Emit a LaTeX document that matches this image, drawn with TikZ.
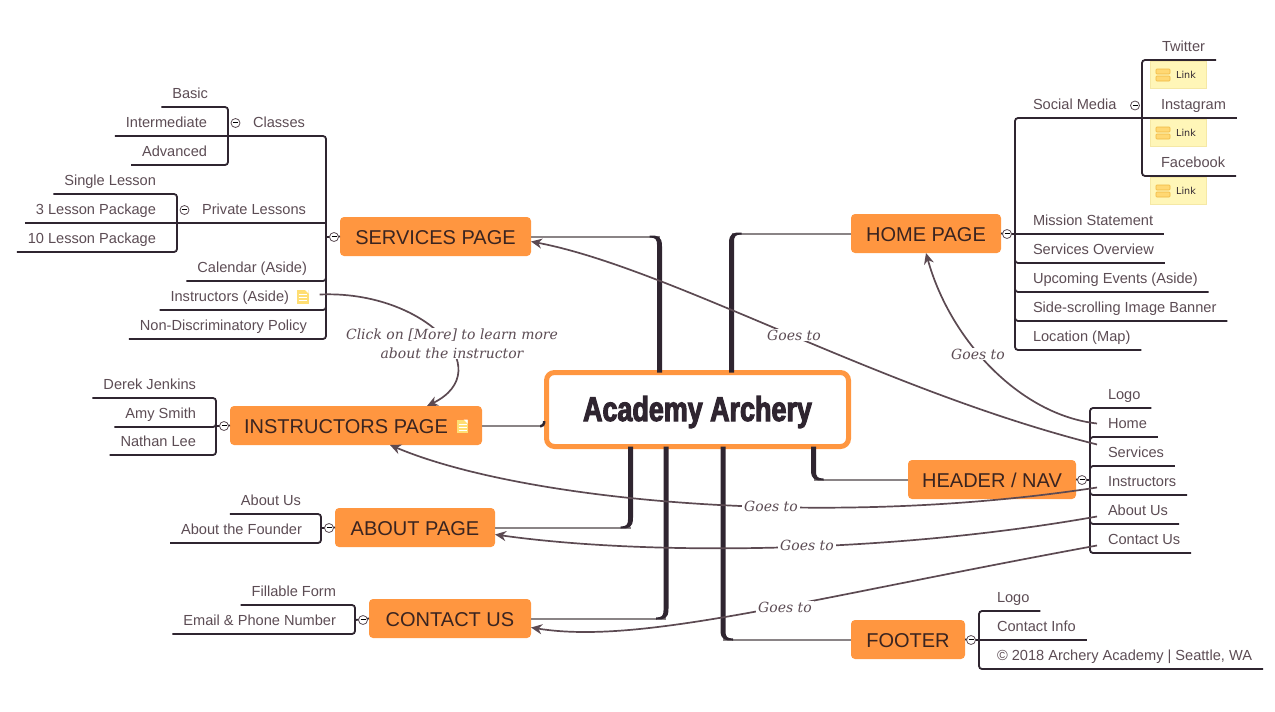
\documentclass[tikz,border=0pt]{standalone}
\usepackage{fontspec}
\setmainfont{Liberation Sans}
\newfontfamily\rootfont[FakeStretch=0.78,BoldFeatures={FakeStretch=0.78,FakeBold=3}]{Liberation Sans}
\newfontfamily\linkfont{DejaVu Sans}
\newfontfamily\relfont{DejaVu Serif}
\usetikzlibrary{arrows.meta,calc}
\definecolor{aaorange}{RGB}{255, 150, 64}
\definecolor{aadark}{RGB}{47, 37, 48}
\definecolor{aagray}{RGB}{138, 132, 134}
\definecolor{aarel}{RGB}{92, 74, 82}
\definecolor{aatext}{RGB}{92, 76, 84}
\definecolor{aapage}{RGB}{58, 36, 32}
\definecolor{aalink}{RGB}{255, 246, 184}
\definecolor{aalinkedge}{RGB}{245, 232, 165}
\definecolor{aabar}{RGB}{255, 216, 115}
\definecolor{aabaredge}{RGB}{240, 184, 64}
\definecolor{aanote}{RGB}{255, 222, 115}

\begin{document}
\begin{tikzpicture}[
		x=1pt, y=-1pt,
		% Node styles
		rootnode/.style={draw=aaorange, fill=white, line width=5pt, rounded corners=8pt, outer sep=0pt,
				minimum width=302pt, minimum height=74pt, text=aadark, text height=23pt, text depth=0pt,
				font=\rootfont\bfseries\fontsize{34.5}{36}\selectfont},
		pagenode/.style={fill=aaorange, text=aapage, rounded corners=4pt, outer sep=0pt, inner sep=0pt,
				minimum height=39pt, text height=15pt, text depth=0pt, font=\fontsize{20}{22}\selectfont},
		leaf/.style={text=aatext, outer sep=0pt, inner xsep=11pt, inner ysep=5pt, text height=11pt, text depth=4pt,
				font=\fontsize{14.6}{17}\selectfont},
		leafl/.style={leaf, anchor=south east},
		leafr/.style={leaf, anchor=south west},
		fold/.style={circle, draw=aatext, fill=white, line width=0.8pt, inner sep=0pt, minimum size=9pt,
				font=\fontsize{4}{4}\selectfont},
		linktag/.style={draw=aalinkedge, fill=aalink, minimum width=56pt, minimum height=27pt, inner sep=0pt,
				text=aadark, font=\linkfont\fontsize{9.6}{11}\selectfont,
				path picture={
						\draw[aabaredge, fill=aabar, line width=0.6pt, rounded corners=0.8pt]
						([shift={(6pt,6pt)}]path picture bounding box.west) rectangle ++(14pt,-5pt)
						([shift={(6pt,-1pt)}]path picture bounding box.west) rectangle ++(14pt,-5pt);
					}},
		noteicon/.style={fill=aanote, minimum width=12pt, minimum height=14pt, inner sep=0pt,
				path picture={
						\fill[white] (path picture bounding box.north east) -- ++(-4pt,0pt) -- ++(4pt,-4pt) -- cycle;
						\draw[white, line width=0.5pt]
						([shift={(2pt,2pt)}]path picture bounding box.west) -- ++(8pt,0pt)
						([shift={(2pt,-1pt)}]path picture bounding box.west) -- ++(8pt,0pt)
						([shift={(2pt,-4pt)}]path picture bounding box.west) -- ++(8pt,0pt);
					}},
		rellabel/.style={fill=white, text=aatext, inner xsep=2pt, inner ysep=1pt, align=center,
				font=\relfont\itshape\fontsize{14}{19}\selectfont},
		% Connector styles
		branch/.style={draw=aadark, line width=1.8pt, rounded corners=3pt},
		mainthin/.style={draw=aagray, line width=2pt},
		mainthick/.style={draw=aadark, line width=2.5pt, rounded corners=3pt},
		relation/.style={draw=aarel, line width=1.7pt, -{Stealth[length=11pt,width=10pt]}}
	]

	\useasboundingbox (0,0) rectangle (1275,712);

	% Central topic
	\node[rootnode] (root) at (697.5,409.5) {Academy Archery};

	% Page topics
	\node[pagenode, minimum width=191pt] (services) at (435.5,236.5) {SERVICES PAGE};
	\node[pagenode, minimum width=252pt] (instructors) at (356,425.5) {INSTRUCTORS PAGE\hspace{20pt}\null};
	\node[pagenode, minimum width=160pt] (about) at (415,527.5) {ABOUT PAGE};
	\node[pagenode, minimum width=162pt] (contact) at (450,618.5) {CONTACT US};
	\node[pagenode, minimum width=150pt] (home) at (926,233.5) {HOME PAGE};
	\node[pagenode, minimum width=168pt] (header) at (992,479.5) {HEADER / NAV};
	\node[pagenode, minimum width=114pt] (footer) at (908,639.5) {FOOTER};
	\node[noteicon, minimum width=11pt, minimum height=13pt] (instnote) at (462,426) {};

	% Bends and hubs
	\coordinate (svcbend) at (659.5,236.5);
	\coordinate (homebend) at (731.5,233.5);
	\coordinate (aboutbend) at (630.5,527.5);
	\coordinate (contactbend) at (666,618.5);
	\coordinate (footerbend) at (723,639.5);
	\coordinate (headerbend) at (813.5,479.5);
	\coordinate (instbend) at (541,426);
	\coordinate (instup) at (544,421);
	\coordinate (svchub) at (326,237);
	\coordinate (classhub) at (228,136);
	\coordinate (privhub) at (177,222.5);
	\coordinate (insthub) at (216,426);
	\coordinate (abouthub) at (321,528);
	\coordinate (contacthub) at (355,620);
	\coordinate (homehub) at (1015,234);
	\coordinate (socialhub) at (1142,118);
	\coordinate (headerhub) at (1090,480);
	\coordinate (footerhub) at (979,640);

	% Services page topics
	\node[leaf, anchor=base west] (classes) at (242,127) {Classes};
	\node[leafl] (basic) at (219,107) {Basic};
	\node[leafl] (intermediate) at (218,136) {Intermediate};
	\node[leafl] (advanced) at (218,165) {Advanced};
	\node[leaf, anchor=base east] (private) at (317,214) {Private Lessons};
	\node[leafl] (single) at (167,194) {Single Lesson};
	\node[leafl] (threepack) at (167,223) {3 Lesson Package};
	\node[leafl] (tenpack) at (167,252) {10 Lesson Package};
	\node[leafl] (calendar) at (318,281) {Calendar (Aside)};
	\node[leafl] (aside) at (320,310) {Instructors (Aside)\hspace{20pt}\null};
	\node[noteicon] (asidenote) at (302.5,296.5) {};
	\node[leafl] (policy) at (318,339) {Non-Discriminatory Policy};

	% Instructors page topics
	\node[leafl] (derek) at (207,398) {Derek Jenkins};
	\node[leafl] (amy) at (207,427) {Amy Smith};
	\node[leafl] (nathan) at (207,455) {Nathan Lee};

	% About page topics
	\node[leafl] (aboutus) at (312,514) {About Us};
	\node[leafl] (founder) at (313,543) {About the Founder};

	% Contact page topics
	\node[leafl] (fillable) at (347,605) {Fillable Form};
	\node[leafl] (email) at (347,634) {Email \& Phone Number};

	% Home page topics
	\node[leafr] (social) at (1022,118) {Social Media};
	\node[leafr] (twitter) at (1151,60) {Twitter};
	\node[leafr] (instagram) at (1150,118) {Instagram};
	\node[leafr] (facebook) at (1150,176) {Facebook};
	\node[linktag] (twitterlink) at (1178,75) {\hspace{16pt}Link};
	\node[linktag] (instagramlink) at (1178,133) {\hspace{16pt}Link};
	\node[linktag] (facebooklink) at (1178,191) {\hspace{16pt}Link};
	\node[leafr] (mission) at (1022,234) {Mission Statement};
	\node[leafr] (overview) at (1022,263) {Services Overview};
	\node[leafr] (events) at (1022,292) {Upcoming Events (Aside)};
	\node[leafr] (banner) at (1022,321) {Side-scrolling Image Banner};
	\node[leafr] (location) at (1022,350) {Location (Map)};

	% Header topics
	\node[leafr] (navlogo) at (1097,408) {Logo};
	\node[leafr] (navhome) at (1097,437) {Home};
	\node[leafr] (navservices) at (1097,466) {Services};
	\node[leafr] (navinstructors) at (1097,495) {Instructors};
	\node[leafr] (navabout) at (1097,524) {About Us};
	\node[leafr] (navcontact) at (1097,553) {Contact Us};

	% Footer topics
	\node[leafr] (footlogo) at (986,611) {Logo};
	\node[leafr] (footinfo) at (986,640) {Contact Info};
	\node[leafr] (footcopy) at (986,669) {\textcopyright{} 2018 Archery Academy | Seattle, WA};

	% Main branches, thin next to the page and tapering out of the root
	\draw[mainthin] (services.east) -- (svcbend);
	\draw[mainthin] (home.west) -- (homebend);
	\draw[mainthin] (about.east) -- (aboutbend);
	\draw[mainthin] (contact.east) -- (contactbend);
	\draw[mainthin] (footer.west) -- (footerbend);
	\draw[mainthin] (header.west) -- (headerbend);
	\draw[mainthin] (instructors.east) -- (instructors.east -| instbend);
	\foreach \bend/\side/\dx/\dy in {svcbend/north/-1/1, homebend/north/1/1, aboutbend/south/-1/-1,
			contactbend/south/-1/-1, footerbend/south/1/-1, headerbend/south/1/-1} {
			\fill[aadark] ([xshift=\dx*-2.5pt]root.\side -| \bend)
			-- ([shift={(\dx*-2.5pt,\dy*-10pt)}]\bend)
			.. controls ([shift={(\dx*-2.5pt,\dy*1pt)}]\bend) and ([shift={(\dx*2pt,\dy*1pt)}]\bend)
			.. ([shift={(\dx*10pt,\dy*1pt)}]\bend)
			-- ([shift={(\dx*10pt,\dy*-1pt)}]\bend)
			.. controls ([shift={(\dx*4pt,\dy*-1pt)}]\bend) and ([shift={(\dx*2.5pt,\dy*-3pt)}]\bend)
			.. ([shift={(\dx*2.5pt,\dy*-8pt)}]\bend)
			-- ([xshift=\dx*2.5pt]root.\side -| \bend) -- cycle;
		}
	\draw[mainthick] (instup) |- ([xshift=-4pt]instup |- instbend);

	% Services page branches
	\draw[branch] (services.west) -- (svchub);
	\draw[branch] (intermediate.south west) -| (svchub) |- (policy.south west);
	\draw[branch] (threepack.south west) -- (svchub |- threepack.south);
	\draw[branch] (svchub) |- (calendar.south west);
	\draw[branch] (svchub) |- (aside.south west);
	\draw[branch] (basic.south west) -| (classhub) |- (advanced.south west);
	\draw[branch] (single.south west) -| (privhub) |- (tenpack.south west);

	% Other left branches
	\draw[branch] (instructors.west) -- (insthub);
	\draw[branch] (derek.south west) -| (insthub) |- (nathan.south west);
	\draw[branch] (insthub) |- (amy.south west);
	\draw[branch] (about.west) -- (abouthub);
	\draw[branch] (aboutus.south west) -| (abouthub) |- (founder.south west);
	\draw[branch] (contact.west) -- (contacthub);
	\draw[branch] (fillable.south west) -| (contacthub) |- (email.south west);

	% Home page branches
	\draw[branch] (home.east) -- (homehub);
	\draw[branch] (instagram.south east) -| (homehub) |- (location.south east);
	\draw[branch] (homehub) -- (mission.south east);
	\draw[branch] (homehub) |- (overview.south east);
	\draw[branch] (homehub) |- (events.south east);
	\draw[branch] (homehub) |- (banner.south east);
	\draw[branch] (twitter.south east) -| (socialhub) |- (facebook.south east);

	% Header branches
	\draw[branch] (header.east) -- (headerhub);
	\draw[branch] (navlogo.south east) -| (headerhub) |- (navcontact.south east);
	\draw[branch] (headerhub) |- (navhome.south east);
	\draw[branch] (headerhub) |- (navservices.south east);
	\draw[branch] (headerhub) |- (navinstructors.south east);
	\draw[branch] (headerhub) |- (navabout.south east);

	% Footer branches
	\draw[branch] (footer.east) -- (footerhub);
	\draw[branch] (footlogo.south east) -| (footerhub) |- (footcopy.south east);
	\draw[branch] (footerhub) -- (footinfo.south east);

	% Fold markers
	\node[fold] (svcfold) at (334,237) {\rule[1.2pt]{5pt}{0.7pt}};
	\node[fold] (classfold) at (235.5,123) {\rule[1.2pt]{5pt}{0.7pt}};
	\node[fold] (privfold) at (184.5,210) {\rule[1.2pt]{5pt}{0.7pt}};
	\node[fold] (instfold) at (224,426) {\rule[1.2pt]{5pt}{0.7pt}};
	\node[fold] (aboutfold) at (329,528) {\rule[1.2pt]{5pt}{0.7pt}};
	\node[fold] (contactfold) at (363,620) {\rule[1.2pt]{5pt}{0.7pt}};
	\node[fold] (homefold) at (1007,234) {\rule[1.2pt]{5pt}{0.7pt}};
	\node[fold] (socialfold) at (1135,105.5) {\rule[1.2pt]{5pt}{0.7pt}};
	\node[fold] (headerfold) at (1082,480) {\rule[1.2pt]{5pt}{0.7pt}};
	\node[fold] (footerfold) at (971,640) {\rule[1.2pt]{5pt}{0.7pt}};

	% Relationships
	\draw[relation] ([yshift=1pt]navhome.west) .. controls (1020,415) and (950,340) .. (home.south);
	\draw[relation] ([yshift=9pt]navservices.west) .. controls (880,390) and (670,268) .. ([yshift=-5pt]services.east);
	\draw[relation] ([yshift=-5pt]navinstructors.west) .. controls (820,530) and (520,500) .. ([xshift=34pt]instructors.south);
	\draw[relation] ([yshift=-5pt]navabout.west) .. controls (880,555) and (640,555) .. ([yshift=-7pt]about.east);
	\draw[relation] ([yshift=-5pt]navcontact.west) .. controls (800,600) and (640,645) .. ([yshift=-9pt]contact.east);
	\draw[relation] (asidenote.east) ++(11pt,2pt) .. controls (425,290) and (500,370) .. ([xshift=71pt]instructors.north);

	% Relationship labels
	\node[rellabel] (goeshome) at (978,354) {Goes to};
	\node[rellabel] (goesservices) at (794,335) {Goes to};
	\node[rellabel] (goesinstructors) at (771,506) {Goes to};
	\node[rellabel] (goesabout) at (807,545) {Goes to};
	\node[rellabel] (goescontact) at (785,607) {Goes to};
	\node[rellabel] (goesaside) at (452,343.5) {Click on [More] to learn more \\ about the instructor};

\end{tikzpicture}
\end{document}
